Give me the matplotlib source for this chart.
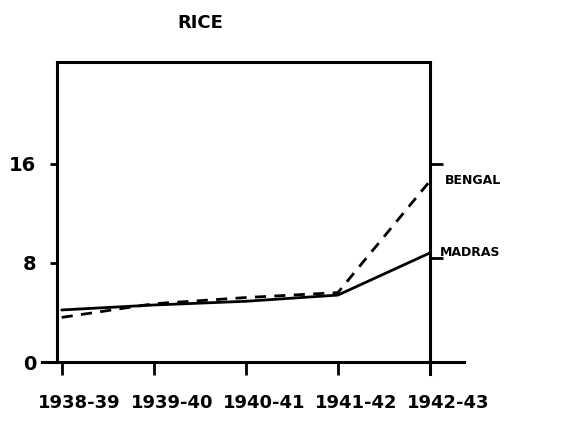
import matplotlib.pyplot as plt
import matplotlib.transforms as mtransforms
import numpy as np

years = ["1938-39", "1939-40", "1940-41", "1941-42", "1942-43"]
madras = [4.2, 4.6, 4.9, 5.4, 8.8]
bengal = [3.6, 4.7, 5.2, 5.6, 14.6]
yticks = [0, 8, 16]

plt.rcParams['font.family'] = ['DejaVu Sans']
plt.rcParams['font.weight'] = 'bold'

fig = plt.figure(figsize=(5.71, 4.21), dpi=100)
ax = fig.add_axes([0.10, 0.14, 0.653, 0.713])

x = np.arange(len(years))
ax.plot(x, madras, color='black', lw=2.0, solid_capstyle='round')
ax.plot(x, bengal, color='black', lw=2.0, ls=(0, (4, 3)))

ax.set_xlim(-0.05, 4)
ax.set_ylim(0, 24.2)

for s in ax.spines.values():
    s.set_linewidth(2.2)
ax.spines['bottom'].set_visible(False)
ax.spines['right'].set_bounds(-1.0, 24.2)
# extended baseline, as on the hand-drawn chart
ax.axhline(0, xmin=-0.04, xmax=1.09, color='black', lw=2.2, clip_on=False)

ax.set_xticks(x)
ax.set_xticklabels(years, fontsize=13, fontweight='bold')
ax.tick_params(axis='x', direction='out', length=9, width=2, pad=14)
shift = mtransforms.ScaledTranslation(18 / 100, 0, fig.dpi_scale_trans)
for lbl in ax.get_xticklabels():
    lbl.set_transform(lbl.get_transform() + shift)
ax.set_yticks(yticks)
ax.set_yticklabels([str(v) for v in yticks], fontsize=14, fontweight='bold')
ax.tick_params(axis='y', direction='out', length=5, width=2, pad=10)

ax2 = ax.twinx()
ax2.set_ylim(ax.get_ylim())
ax2.set_yticks([16, 8.4])
ax2.set_yticklabels([])
ax2.tick_params(axis='y', direction='out', length=9, width=2)
for s in ax2.spines.values():
    s.set_visible(False)

ax.annotate("BENGAL", xy=(4, bengal[-1]), xytext=(11, 0), textcoords='offset points',
            fontsize=9, fontweight='bold', va='center', annotation_clip=False)
ax.annotate("MADRAS", xy=(4, madras[-1]), xytext=(7, 0), textcoords='offset points',
            fontsize=9, fontweight='bold', va='center', annotation_clip=False)

fig.text(0.35, 0.945, "RICE", fontsize=13, fontweight='bold', ha='center', va='center')

fig.savefig("out.png", dpi=100)
